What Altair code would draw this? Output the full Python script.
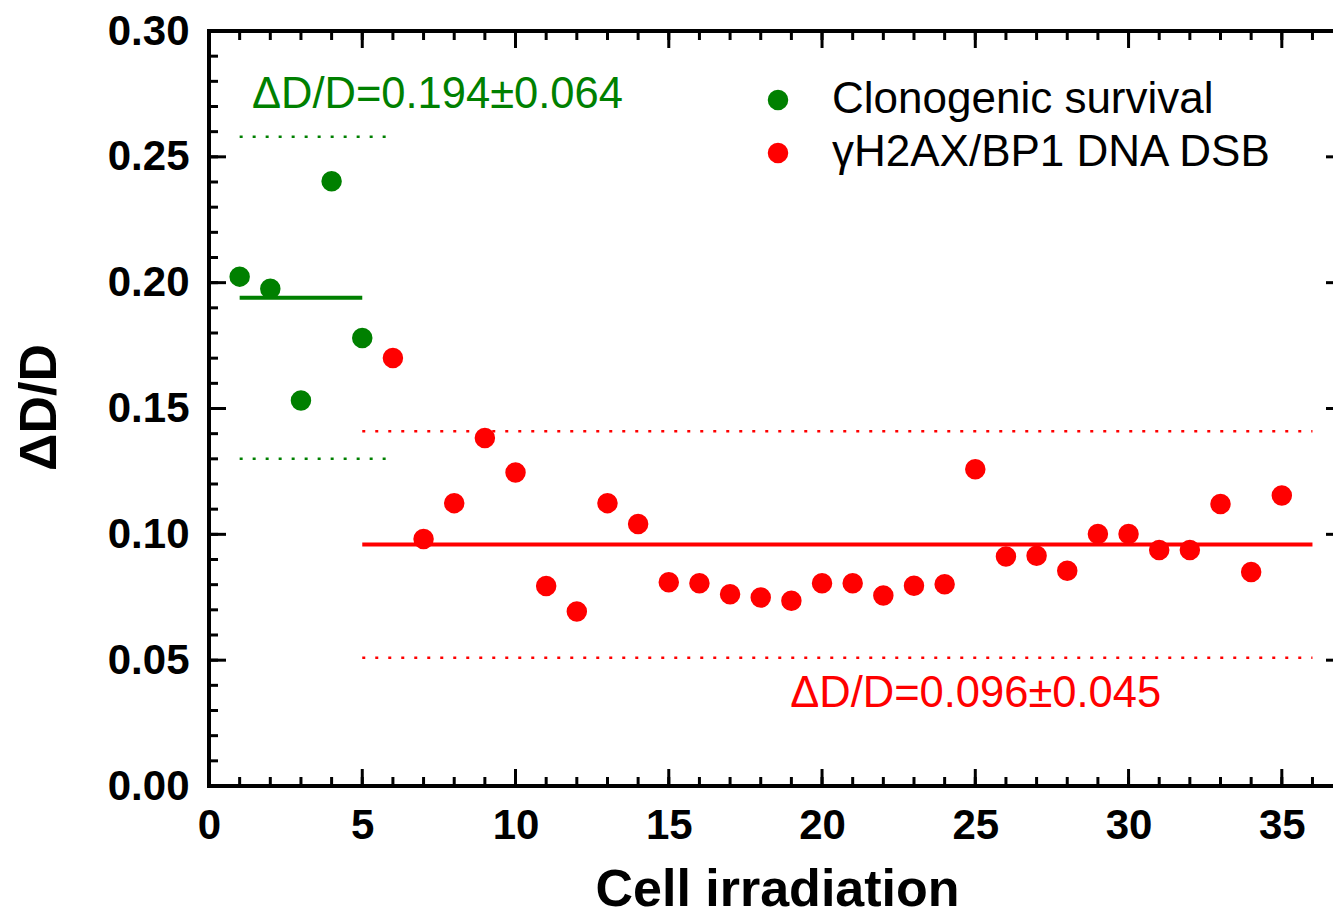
import altair as alt
import pandas as pd

# ---------------- data ----------------
series_names = ["Clonogenic survival", "γH2AX/BP1 DNA DSB"]
series_colors = ["#008000", "#ff0000"]

green_x = [1, 2, 3, 4, 5]
green_y = [0.2024, 0.1976, 0.1532, 0.2403, 0.1780]

red_x = list(range(6, 36))
red_y = [0.1701, 0.0981, 0.1124, 0.1383, 0.1246, 0.0795, 0.0693, 0.1124, 0.1041, 0.0810,
         0.0806, 0.0762, 0.0749, 0.0736, 0.0806, 0.0806, 0.0757, 0.0796, 0.0802, 0.1259,
         0.0912, 0.0915, 0.0855, 0.1001, 0.1001, 0.0938, 0.0938, 0.1121, 0.0850, 0.1154]

mean_vals = [0.194, 0.096]
sd_vals = [0.064, 0.045]
mean_start = [1, 5]
mean_end = [5, 36]
band_start = [1, 5]
band_end = [5.85, 36]

annot_text = ["ΔD/D=0.194±0.064", "ΔD/D=0.096±0.045"]
annot_x = [1.4, 18.96]
annot_y = [0.2696, 0.0315]

x_major = [0, 5, 10, 15, 20, 25, 30, 35]
x_minor = list(range(0, 37))
y_major = [0.0, 0.05, 0.10, 0.15, 0.20, 0.25, 0.30]
y_minor = [i / 100 for i in range(0, 31)]

X_DOMAIN = [0, 36.67]
Y_DOMAIN = [0, 0.30]

W, H = 1124, 755
FONT = "Liberation Sans"

# ---------------- frames ----------------
pts = pd.DataFrame({
    "x": green_x + red_x,
    "y": green_y + red_y,
    "series": [series_names[0]] * len(green_x) + [series_names[1]] * len(red_x),
})
means = pd.DataFrame({"x": mean_start, "x2": mean_end, "y": mean_vals, "series": series_names})
bands = pd.DataFrame({
    "x": band_start + band_start,
    "x2": band_end + band_end,
    "y": [m + s for m, s in zip(mean_vals, sd_vals)] + [m - s for m, s in zip(mean_vals, sd_vals)],
    "series": series_names + series_names,
})
annots = pd.DataFrame({"x": annot_x, "y": annot_y, "label": annot_text, "series": series_names})

xs = alt.Scale(domain=X_DOMAIN, nice=False, zero=False)
ys = alt.Scale(domain=Y_DOMAIN, nice=False, zero=False)
cs = alt.Scale(domain=series_names, range=series_colors)

x_axis = alt.Axis(values=x_major, format="d", labelFont=FONT, labelFontSize=42,
                  labelFontWeight="bold", labelColor="black", ticks=False, domain=False,
                  grid=False, labelPadding=19, labelFlush=False, labelOverlap=False,
                  title="Cell irradiation", titleFont=FONT, titleFontSize=52,
                  titleFontWeight="bold", titleColor="black", titleX=568, titleY=119,
                  titleBaseline="alphabetic", titleAlign="center")
y_axis = alt.Axis(values=y_major, format=".2f", labelFont=FONT, labelFontSize=42,
                  labelFontWeight="bold", labelColor="black", ticks=False, domain=False,
                  grid=False, labelPadding=20, labelFlush=False, labelOverlap=False,
                  title="ΔD/D", titleFont=FONT, titleFontSize=52, titleFontWeight="bold",
                  titleColor="black", titleAngle=270, titleX=-154, titleY=376,
                  titleBaseline="alphabetic", titleAlign="center")
legend = alt.Legend(
    orient="none", legendX=547, legendY=47, title=None, symbolSize=420,
    symbolType="circle", symbolStrokeWidth=0, labelFont=FONT, labelFontSize=44,
    labelColor="black", labelOffset=32, rowPadding=9, padding=0, labelLimit=800)

X = lambda f: alt.X(f, scale=xs, axis=x_axis, title="Cell irradiation")
Y = lambda f: alt.Y(f, scale=ys, axis=y_axis, title="ΔD/D")
C = lambda f: alt.Color(f, scale=cs, legend=legend)

points = alt.Chart(pts).mark_circle(size=420, opacity=1).encode(
    x=X("x:Q"), y=Y("y:Q"), color=C("series:N"))

mean_lines = alt.Chart(means).mark_rule(strokeWidth=4).encode(
    x=X("x:Q"), x2="x2:Q", y=Y("y:Q"), color=C("series:N"))
band_lines = alt.Chart(bands).mark_rule(strokeWidth=2.5, strokeDash=[3, 10]).encode(
    x=X("x:Q"), x2="x2:Q", y=Y("y:Q"), color=C("series:N"))
texts = alt.Chart(annots).mark_text(font=FONT, fontSize=43.5, align="left",
                                     baseline="alphabetic").encode(
    x=X("x:Q"), y=Y("y:Q"), text="label:N", color=C("series:N"))

one = alt.Data(values=[{"k": 1}])
frame_left = alt.Chart(one).mark_rule(strokeWidth=4, color="black").encode(
    x=alt.value(0), y=alt.value(-2), y2=alt.value(H + 2))
frame_bottom = alt.Chart(one).mark_rule(strokeWidth=4, color="black").encode(
    x=alt.value(-2), x2=alt.value(W + 10), y=alt.value(H))
frame_top = alt.Chart(one).mark_rule(strokeWidth=4, color="black").encode(
    x=alt.value(-2), x2=alt.value(W + 10), y=alt.value(0))

xmaj = pd.DataFrame({"x": x_major})
xmin = pd.DataFrame({"x": x_minor})
ymaj = pd.DataFrame({"y": y_major})
ymin = pd.DataFrame({"y": y_minor})

def xticks(df, y0, y1):
    return alt.Chart(df).mark_rule(strokeWidth=3, color="black").encode(
        x=X("x:Q"), y=alt.value(y0), y2=alt.value(y1))

def yticks(df, x0, x1):
    return alt.Chart(df).mark_rule(strokeWidth=3, color="black").encode(
        y=Y("y:Q"), x=alt.value(x0), x2=alt.value(x1))

ticks = [
    xticks(xmaj, H, H - 17), xticks(xmin, H, H - 9),
    xticks(xmaj, 0, 17), xticks(xmin, 0, 9),
    yticks(ymaj, 0, 17), yticks(ymin, 0, 9),
    yticks(ymaj, W, W - 7),
]

chart = alt.layer(
    points, band_lines, mean_lines, texts, frame_left, frame_bottom, frame_top, *ticks
).properties(
    width=W, height=H,
    padding={"left": 209, "top": 31, "right": 0, "bottom": 132},
    autosize=alt.AutoSizeParams(type="none"),
    background="white",
).configure_view(strokeWidth=0)

chart.save("out.html", embed_options={"renderer": "svg", "actions": False})
